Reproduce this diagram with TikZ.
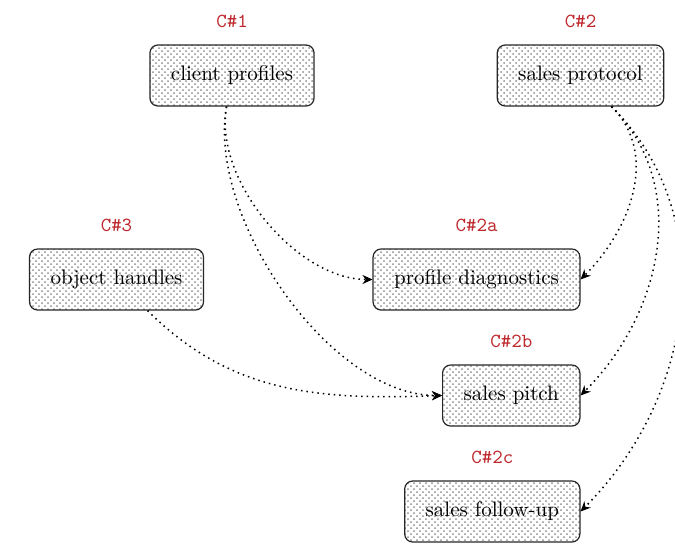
\documentclass[tikz,border=0pt]{standalone}
\usetikzlibrary{arrows.meta,patterns}

\definecolor{tagred}{RGB}{190,40,45}

\tikzset{
  unitbox/.style={draw=black!85, line width=0.6pt, rounded corners=4pt,
    pattern=crosshatch dots, pattern color=black!45,
    minimum height=30.5pt, inner xsep=10.5pt, font=\fontsize{10.5}{12}\selectfont},
  tagtext/.style={text=tagred, font=\ttfamily, inner sep=0pt},
  link/.style={dotted, line width=0.75pt,
    -{Stealth[length=5pt,width=4.5pt,inset=1.6pt]}},
}

\begin{document}
\begin{tikzpicture}[x=0.5pt, y=-0.5pt]
  \useasboundingbox (0,0) rectangle (675,543);
  \clip (0,0) rectangle (675,543);

  % components
  \node[unitbox] (cp) at (232,75.5) {client profiles};
  \node[unitbox] (sp) at (580.5,75.5) {sales protocol};
  \node[unitbox] (oh) at (116.5,279.5) {object handles};
  \node[unitbox, anchor=east] (pd) at (580.5,279.5) {profile diagnostics};
  \node[unitbox, anchor=east] (pt) at (580.5,395.5) {sales pitch};
  \node[unitbox, anchor=east] (fu) at (580.5,511.5) {sales follow-up};

  % component tags
  \node[tagtext] (cpT) at ([yshift=11.5pt]cp.north) {C\#1};
  \node[tagtext] (spT) at ([yshift=11.5pt]sp.north) {C\#2};
  \node[tagtext] (ohT) at ([yshift=11.5pt]oh.north) {C\#3};
  \node[tagtext] (pdT) at ([yshift=11.5pt]pd.north) {C\#2a};
  \node[tagtext] (ptT) at ([yshift=11.5pt]pt.north) {C\#2b};
  \node[tagtext] (fuT) at ([yshift=11.5pt]fu.north) {C\#2c};

  % dependencies
  \draw[link] (cp) to[out=-100, in=180, looseness=0.85] (pd.west);
  \draw[link] (cp) to[out=-100, in=180, looseness=0.8] (pt.west);
  \draw[link] (oh) to[out=-45, in=182] (pt.west);
  \draw[link] (sp) to[out=-45, in=45] (pd.east);
  \draw[link] (sp) to[out=-45, in=45] (pt.east);
  \draw[link] (sp) to[out=-45, in=45] (fu.east);
\end{tikzpicture}
\end{document}
